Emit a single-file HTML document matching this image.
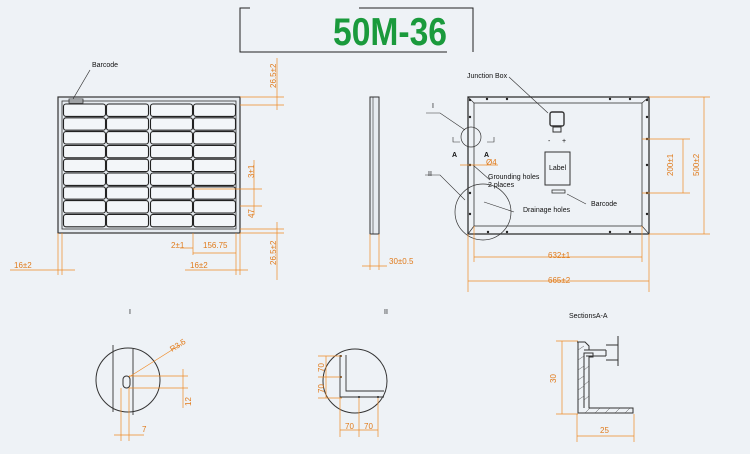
<!DOCTYPE html><html><head><style>body{margin:0;background:#eef2f6}svg{display:block}text{font-family:"Liberation Sans",sans-serif}</style></head><body>
<svg width="750" height="454" viewBox="0 0 750 454" xmlns="http://www.w3.org/2000/svg">
<rect width="750" height="454" fill="#eef2f6"/>
<!-- title -->
<g stroke="#222" stroke-width="1" fill="none">
<path d="M250 8H240V52H447M359 8H473V52"/>
</g>
<text x="390" y="45" text-anchor="middle" font-size="39" font-weight="bold" fill="#1a9a3c" textLength="114" lengthAdjust="spacingAndGlyphs">50M-36</text>

<!-- front panel -->
<g stroke="#333" fill="none">
<rect x="58" y="97" width="182" height="136" stroke-width="1.2" fill="#e6ebf0"/>
<rect x="62" y="101" width="174" height="128" stroke-width="0.8"/>
<rect x="69" y="99" width="14" height="4" stroke-width="0.8"/>
<path d="M73 99L90 70" stroke-width="0.7"/>
</g>
<g stroke="#222" stroke-width="1.1" fill="#f3f6f9" id="cells"></g>
<text x="92" y="67" font-size="7" fill="#111">Barcode</text>
<g stroke="#f08a24" stroke-width="0.7" fill="none">
<path d="M240 97H284M240 105H284M277 58V110M240 233H284M240 229H284M277 222V280"/>
<path d="M193 189H262M240 206H262M254 160V215"/>
<path d="M193 233V255M240 233V275M236 233V275M62 233V275M58 233V275M10 270H75M180 248H193M193 253H236M185 270H248"/>
</g>
<g font-size="8" fill="#e07a1a">
<text x="14" y="268">16±2</text>
<text x="171" y="248">2±1</text>
<text x="203" y="248">156.75</text>
<text x="190" y="268">16±2</text>
<text transform="translate(276,88) rotate(-90)">26.5±2</text>
<text transform="translate(276,265) rotate(-90)">26.5±2</text>
<text transform="translate(254,178) rotate(-90)">3±1</text>
<text transform="translate(254,218) rotate(-90)">47</text>
</g>

<!-- side -->
<rect x="370" y="97" width="9" height="137" fill="#e6ebf0" stroke="#333"/>
<line x1="373" y1="97" x2="373" y2="234" stroke="#333" stroke-width="0.6"/>
<g stroke="#f08a24" stroke-width="0.7"><path d="M370 234V270M379 234V270M362 266H387"/></g>
<text x="389" y="264" font-size="8" fill="#e07a1a">30±0.5</text>

<!-- back -->
<g stroke="#333" fill="none">
<rect x="468" y="97" width="181" height="137" stroke-width="1.3"/>
<rect x="474" y="103" width="168" height="123" stroke-width="0.8"/>
<path d="M468 97L474 103M649 97L642 103M468 234L474 226M649 234L642 226" stroke-width="0.7"/>
<rect x="550" y="112" width="14" height="14" rx="2" stroke-width="1.4"/>
<rect x="553" y="127" width="8" height="5" stroke-width="1"/>
<rect x="545" y="152" width="25" height="33" stroke-width="1"/>
<rect x="552" y="190" width="13" height="3" stroke-width="0.8"/>
<circle cx="471" cy="137" r="10" stroke-width="0.7"/>
<circle cx="483" cy="212" r="28" stroke-width="0.7"/>
<path d="M509 77L548 113M426 113H440L465 130M425 175H440L465 200M453 137V142H460M494 137V142H487M567 194L586 204M484 202L514 212M473 165L490 180" stroke-width="0.6"/>
</g>
<g fill="#222">
<circle cx="470" cy="100" r="1.2"/><circle cx="487" cy="99" r="1.2"/><circle cx="507" cy="99" r="1.2"/><circle cx="610" cy="99" r="1.2"/><circle cx="630" cy="99" r="1.2"/><circle cx="647" cy="100" r="1.2"/>
<circle cx="470" cy="117" r="1.2"/><circle cx="647" cy="117" r="1.2"/><circle cx="470" cy="165" r="1.2"/><circle cx="647" cy="165" r="1.2"/><circle cx="470" cy="214" r="1.2"/><circle cx="647" cy="214" r="1.2"/>
<circle cx="470" cy="193" r="1.2"/><circle cx="647" cy="193" r="1.2"/><circle cx="647" cy="139" r="1.2"/>
<circle cx="488" cy="232" r="1.2"/><circle cx="507" cy="232" r="1.2"/><circle cx="610" cy="232" r="1.2"/><circle cx="630" cy="232" r="1.2"/>
</g>
<g font-size="7" fill="#111">
<text x="467" y="78">Junction Box</text>
<text x="432" y="108">I</text>
<text x="428" y="176">II</text>
<text x="452" y="157" font-weight="bold">A</text>
<text x="484" y="157" font-weight="bold">A</text>
<text x="548" y="143">-</text><text x="562" y="143">+</text>
<text x="549" y="170">Label</text>
<text x="488" y="179">Grounding holes</text>
<text x="488" y="187">2 places</text>
<text x="523" y="212">Drainage holes</text>
<text x="591" y="206">Barcode</text>
</g>
<g stroke="#f08a24" stroke-width="0.7" fill="none">
<path d="M649 97H710M642 139H690M642 193H690M649 234H710M704 97V234M683 139V193"/>
<path d="M474 226V262M642 226V262M468 234V292M649 234V292M474 257H642M468 281H649M460 165H498"/>
</g>
<g font-size="8" fill="#e07a1a">
<text x="486" y="165">Ø4</text>
<text x="548" y="258">632±1</text>
<text x="548" y="283">665±2</text>
<text transform="translate(673,176) rotate(-90)">200±1</text>
<text transform="translate(699,176) rotate(-90)">500±2</text>
</g>

<!-- detail I -->
<text x="129" y="314" font-size="7" fill="#111">I</text>
<g stroke="#333" fill="none">
<circle cx="128" cy="380" r="32"/>
<path d="M113 345V412M133 349V415" stroke-width="0.9"/>
<rect x="123" y="376" width="7" height="12" rx="3.5"/>
</g>
<g stroke="#f08a24" stroke-width="0.7" fill="none">
<path d="M129 377L183 343M129 376H188M129 388H188M183 369V408M121 388V441M129 388V441M114 435H144"/>
</g>
<g font-size="8" fill="#e07a1a">
<text transform="translate(172,352) rotate(-32)">R3.5</text>
<text transform="translate(191,406) rotate(-90)">12</text>
<text x="142" y="432">7</text>
</g>

<!-- detail II -->
<text x="384" y="314" font-size="7" fill="#111">II</text>
<g stroke="#333" fill="none">
<circle cx="355" cy="381" r="32"/>
<path d="M340 355V397H384M346 355V391H384" stroke-width="0.9"/>
</g>
<g fill="#222"><circle cx="341" cy="356" r="1"/><circle cx="341" cy="377" r="1"/><circle cx="359" cy="397" r="1"/><circle cx="378" cy="397" r="1"/></g>
<g stroke="#f08a24" stroke-width="0.7" fill="none">
<path d="M318 356H342M318 377H342M318 398H342M326 356V398M340 398V437M359 398V437M378 398V437M340 430H378"/>
</g>
<g font-size="8" fill="#e07a1a">
<text transform="translate(324,372) rotate(-90)">70</text>
<text transform="translate(324,393) rotate(-90)">70</text>
<text x="345" y="429">70</text>
<text x="364" y="429">70</text>
</g>

<!-- section A-A -->
<text x="569" y="318" font-size="7" fill="#111">SectionsA-A</text>
<g stroke="#333" fill="none" stroke-width="1">
<path d="M577 342H585L589 346V350H606M578 342V413H633V408H589V357H593V353H584V408"/>
<path d="M584 350H606M606 350V356M586 356H606M618 336V366M606 345H618V360H606"/>
</g>
<g stroke="#555" stroke-width="0.5">
<path d="M578 350L584 346M578 360L584 356M578 370L584 366M578 380L584 376M578 390L584 386M578 400L584 396M585 413L590 408M595 413L600 408M605 413L610 408M615 413L620 408M625 413L630 408M584 370L589 366M584 385L589 381M584 400L589 396"/>
</g>
<g stroke="#f08a24" stroke-width="0.7" fill="none">
<path d="M556 341H578M556 414H578M562 341V414M577 414V442M634 414V442M577 436H634"/>
</g>
<g font-size="8" fill="#e07a1a">
<text transform="translate(556,383) rotate(-90)">30</text>
<text x="600" y="433">25</text>
</g>
<script>
var g=document.getElementById('cells'),xs=[63,106,150,193],w=42,h=12.4;
for(var r=0;r<9;r++)for(var c=0;c<4;c++){var e=document.createElementNS('http://www.w3.org/2000/svg','rect');
e.setAttribute('x',xs[c]+0.5);e.setAttribute('y',104+r*13.8);e.setAttribute('width',w);e.setAttribute('height',h);e.setAttribute('rx',2.5);g.appendChild(e);}
</script>
</svg></body></html>
